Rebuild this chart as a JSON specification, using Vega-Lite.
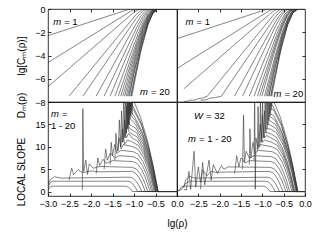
{
"$schema":"https://vega.github.io/schema/vega-lite/v6.json",
"padding":{"left":16,"top":4,"right":4,"bottom":2},
"config":{"view":{"stroke":"black","strokeWidth":0.8},"font":"Liberation Sans",
"axis":{"domain":false,"grid":false,"tickColor":"black","tickSize":-3,"tickWidth":0.8,"tickCount":20,"labelFont":"Liberation Sans","labelFontSize":9,"labelColor":"black","labelPadding":6,"titleFont":"Liberation Sans","titleFontSize":10,"titleFontWeight":"normal","titleColor":"black","labelFlush":false,"labelOverlap":false},
"line":{"stroke":"#333","strokeWidth":0.6,"clip":true},
"text":{"font":"Liberation Sans","fontSize":9.5,"align":"left","baseline":"middle","color":"black"}},
"datasets":{
"tl":[
{"m":1,"x":-3,"y":-2.29},{"m":1,"x":-1.2,"y":-0.128},{"m":1,"x":-1.16,"y":-0.081},{"m":1,"x":-1.12,"y":-0.04},{"m":1,"x":-1.088,"y":-0.016},{"m":1,"x":-1.04,"y":0},{"m":1,"x":0,"y":0},
{"m":2,"x":-3,"y":-4.61},{"m":2,"x":-1.14,"y":-0.337},{"m":2,"x":-1.085,"y":-0.213},{"m":2,"x":-1.03,"y":-0.105},{"m":2,"x":-0.986,"y":-0.041},{"m":2,"x":-0.953,"y":-0.011},{"m":2,"x":-0.92,"y":0},{"m":2,"x":0,"y":0},
{"m":3,"x":-3,"y":-6.68},{"m":3,"x":-1.1,"y":-0.597},{"m":3,"x":-1.03,"y":-0.378},{"m":3,"x":-0.96,"y":-0.187},{"m":3,"x":-0.904,"y":-0.073},{"m":3,"x":-0.862,"y":-0.019},{"m":3,"x":-0.82,"y":0},{"m":3,"x":0,"y":0},
{"m":4,"x":-2.51,"y":-7.5},{"m":4,"x":-1.06,"y":-0.96},{"m":4,"x":-0.98,"y":-0.608},{"m":4,"x":-0.9,"y":-0.3},{"m":4,"x":-0.836,"y":-0.117},{"m":4,"x":-0.788,"y":-0.031},{"m":4,"x":-0.74,"y":0},{"m":4,"x":0,"y":0},
{"m":5,"x":-2.19,"y":-7.5},{"m":5,"x":-1.04,"y":-1.296},{"m":5,"x":-0.95,"y":-0.82},{"m":5,"x":-0.86,"y":-0.405},{"m":5,"x":-0.788,"y":-0.157},{"m":5,"x":-0.734,"y":-0.042},{"m":5,"x":-0.68,"y":0},{"m":5,"x":0,"y":0},
{"m":6,"x":-1.88,"y":-7.5},{"m":6,"x":-1.03,"y":-1.787},{"m":6,"x":-0.93,"y":-1.131},{"m":6,"x":-0.83,"y":-0.558},{"m":6,"x":-0.75,"y":-0.217},{"m":6,"x":-0.69,"y":-0.057},{"m":6,"x":-0.63,"y":0},{"m":6,"x":0,"y":0},
{"m":7,"x":-1.695,"y":-7.5},{"m":7,"x":-1.02,"y":-2.236},{"m":7,"x":-0.9125,"y":-1.415},{"m":7,"x":-0.805,"y":-0.699},{"m":7,"x":-0.719,"y":-0.272},{"m":7,"x":-0.6545,"y":-0.072},{"m":7,"x":-0.59,"y":0},{"m":7,"x":0,"y":0},
{"m":8,"x":-1.556,"y":-7.5},{"m":8,"x":-1.02,"y":-2.729},{"m":8,"x":-0.905,"y":-1.727},{"m":8,"x":-0.79,"y":-0.853},{"m":8,"x":-0.698,"y":-0.332},{"m":8,"x":-0.629,"y":-0.088},{"m":8,"x":-0.56,"y":0},{"m":8,"x":0,"y":0},
{"m":9,"x":-1.443,"y":-7.5},{"m":9,"x":-1.02,"y":-3.267},{"m":9,"x":-0.8975,"y":-2.067},{"m":9,"x":-0.775,"y":-1.021},{"m":9,"x":-0.677,"y":-0.397},{"m":9,"x":-0.6035,"y":-0.105},{"m":9,"x":-0.53,"y":0},{"m":9,"x":0,"y":0},
{"m":10,"x":-1.365,"y":-7.5},{"m":10,"x":-1.03,"y":-3.813},{"m":10,"x":-0.9,"y":-2.413},{"m":10,"x":-0.77,"y":-1.191},{"m":10,"x":-0.666,"y":-0.463},{"m":10,"x":-0.588,"y":-0.122},{"m":10,"x":-0.51,"y":0},{"m":10,"x":0,"y":0},
{"m":11,"x":-1.308,"y":-7.5},{"m":11,"x":-1.05,"y":-4.4},{"m":11,"x":-0.9125,"y":-2.785},{"m":11,"x":-0.775,"y":-1.375},{"m":11,"x":-0.665,"y":-0.535},{"m":11,"x":-0.5825,"y":-0.141},{"m":11,"x":-0.5,"y":0},{"m":11,"x":0,"y":0},
{"m":12,"x":-1.26,"y":-7.5},{"m":12,"x":-1.07,"y":-5.027},{"m":12,"x":-0.925,"y":-3.181},{"m":12,"x":-0.78,"y":-1.571},{"m":12,"x":-0.664,"y":-0.611},{"m":12,"x":-0.577,"y":-0.161},{"m":12,"x":-0.49,"y":0},{"m":12,"x":0,"y":0},
{"m":13,"x":-1.219,"y":-7.5},{"m":13,"x":-1.09,"y":-5.693},{"m":13,"x":-0.9375,"y":-3.603},{"m":13,"x":-0.785,"y":-1.779},{"m":13,"x":-0.663,"y":-0.692},{"m":13,"x":-0.5715,"y":-0.183},{"m":13,"x":-0.48,"y":0},{"m":13,"x":0,"y":0},
{"m":14,"x":-1.183,"y":-7.5},{"m":14,"x":-1.11,"y":-6.4},{"m":14,"x":-0.95,"y":-4.05},{"m":14,"x":-0.79,"y":-2.0},{"m":14,"x":-0.662,"y":-0.778},{"m":14,"x":-0.566,"y":-0.205},{"m":14,"x":-0.47,"y":0},{"m":14,"x":0,"y":0},
{"m":15,"x":-1.152,"y":-7.5},{"m":15,"x":-1.13,"y":-7.147},{"m":15,"x":-0.9625,"y":-4.523},{"m":15,"x":-0.795,"y":-2.233},{"m":15,"x":-0.661,"y":-0.868},{"m":15,"x":-0.5605,"y":-0.229},{"m":15,"x":-0.46,"y":0},{"m":15,"x":0,"y":0},
{"m":16,"x":-1.124,"y":-7.5},{"m":16,"x":-0.975,"y":-5.021},{"m":16,"x":-0.8,"y":-2.479},{"m":16,"x":-0.66,"y":-0.964},{"m":16,"x":-0.555,"y":-0.255},{"m":16,"x":-0.45,"y":0},{"m":16,"x":0,"y":0},
{"m":17,"x":-1.11,"y":-7.5},{"m":17,"x":-0.9975,"y":-5.544},{"m":17,"x":-0.815,"y":-2.737},{"m":17,"x":-0.669,"y":-1.064},{"m":17,"x":-0.5595,"y":-0.281},{"m":17,"x":-0.45,"y":0},{"m":17,"x":0,"y":0},
{"m":18,"x":-1.077,"y":-7.5},{"m":18,"x":-1.01,"y":-6.253},{"m":18,"x":-0.82,"y":-3.087},{"m":18,"x":-0.668,"y":-1.2},{"m":18,"x":-0.554,"y":-0.317},{"m":18,"x":-0.44,"y":0},{"m":18,"x":0,"y":0},
{"m":19,"x":-1.067,"y":-7.5},{"m":19,"x":-1.0325,"y":-6.835},{"m":19,"x":-0.835,"y":-3.374},{"m":19,"x":-0.677,"y":-1.312},{"m":19,"x":-0.5585,"y":-0.347},{"m":19,"x":-0.44,"y":0},{"m":19,"x":0,"y":0},
{"m":20,"x":-1.048,"y":-7.5},{"m":20,"x":-0.9665,"y":-5.898},{"m":20,"x":-0.845,"y":-3.712},{"m":20,"x":-0.683,"y":-1.443},{"m":20,"x":-0.5615,"y":-0.381},{"m":20,"x":-0.44,"y":0},{"m":20,"x":0,"y":0}
],
"tr":[
{"m":1,"x":-3,"y":-2.55},{"m":1,"x":-0.98,"y":-0.128},{"m":1,"x":-0.94,"y":-0.081},{"m":1,"x":-0.9,"y":-0.04},{"m":1,"x":-0.868,"y":-0.016},{"m":1,"x":-0.82,"y":0},{"m":1,"x":0,"y":0},
{"m":2,"x":-3,"y":-5.12},{"m":2,"x":-0.92,"y":-0.337},{"m":2,"x":-0.865,"y":-0.213},{"m":2,"x":-0.81,"y":-0.105},{"m":2,"x":-0.766,"y":-0.041},{"m":2,"x":-0.733,"y":-0.011},{"m":2,"x":-0.7,"y":0},{"m":2,"x":0,"y":0},
{"m":3,"x":-2.84,"y":-6.87},{"m":3,"x":-0.88,"y":-0.597},{"m":3,"x":-0.81,"y":-0.378},{"m":3,"x":-0.74,"y":-0.187},{"m":3,"x":-0.684,"y":-0.073},{"m":3,"x":-0.642,"y":-0.019},{"m":3,"x":-0.6,"y":0},{"m":3,"x":0,"y":0},
{"m":4,"x":-2.84,"y":-7.95},{"m":4,"x":-2.74,"y":-7.93},{"m":4,"x":-2.7,"y":-7.84},{"m":4,"x":-2.56,"y":-7.82},{"m":4,"x":-2.5,"y":-7.7},{"m":4,"x":-2.42,"y":-7.68},{"m":4,"x":-2.29,"y":-7.5},{"m":4,"x":-0.84,"y":-0.96},{"m":4,"x":-0.76,"y":-0.608},{"m":4,"x":-0.68,"y":-0.3},{"m":4,"x":-0.616,"y":-0.117},{"m":4,"x":-0.568,"y":-0.031},{"m":4,"x":-0.52,"y":0},{"m":4,"x":0,"y":0},
{"m":5,"x":-2.45,"y":-7.85},{"m":5,"x":-2.3,"y":-7.8},{"m":5,"x":-2.22,"y":-7.66},{"m":5,"x":-2.1,"y":-7.62},{"m":5,"x":-1.96,"y":-7.5},{"m":5,"x":-0.81,"y":-1.296},{"m":5,"x":-0.72,"y":-0.82},{"m":5,"x":-0.63,"y":-0.405},{"m":5,"x":-0.558,"y":-0.157},{"m":5,"x":-0.504,"y":-0.042},{"m":5,"x":-0.45,"y":0},{"m":5,"x":0,"y":0},
{"m":6,"x":-1.65,"y":-7.5},{"m":6,"x":-0.8,"y":-1.787},{"m":6,"x":-0.7,"y":-1.131},{"m":6,"x":-0.6,"y":-0.558},{"m":6,"x":-0.52,"y":-0.217},{"m":6,"x":-0.46,"y":-0.057},{"m":6,"x":-0.4,"y":0},{"m":6,"x":0,"y":0},
{"m":7,"x":-1.465,"y":-7.5},{"m":7,"x":-0.79,"y":-2.236},{"m":7,"x":-0.6825,"y":-1.415},{"m":7,"x":-0.575,"y":-0.699},{"m":7,"x":-0.489,"y":-0.272},{"m":7,"x":-0.4245,"y":-0.072},{"m":7,"x":-0.36,"y":0},{"m":7,"x":0,"y":0},
{"m":8,"x":-1.306,"y":-7.5},{"m":8,"x":-0.77,"y":-2.729},{"m":8,"x":-0.655,"y":-1.727},{"m":8,"x":-0.54,"y":-0.853},{"m":8,"x":-0.448,"y":-0.332},{"m":8,"x":-0.379,"y":-0.088},{"m":8,"x":-0.31,"y":0},{"m":8,"x":0,"y":0},
{"m":9,"x":-1.193,"y":-7.5},{"m":9,"x":-0.77,"y":-3.267},{"m":9,"x":-0.6475,"y":-2.067},{"m":9,"x":-0.525,"y":-1.021},{"m":9,"x":-0.427,"y":-0.397},{"m":9,"x":-0.3535,"y":-0.105},{"m":9,"x":-0.28,"y":0},{"m":9,"x":0,"y":0},
{"m":10,"x":-1.115,"y":-7.5},{"m":10,"x":-0.78,"y":-3.813},{"m":10,"x":-0.65,"y":-2.413},{"m":10,"x":-0.52,"y":-1.191},{"m":10,"x":-0.416,"y":-0.463},{"m":10,"x":-0.338,"y":-0.122},{"m":10,"x":-0.26,"y":0},{"m":10,"x":0,"y":0},
{"m":11,"x":-1.058,"y":-7.5},{"m":11,"x":-0.8,"y":-4.4},{"m":11,"x":-0.6625,"y":-2.785},{"m":11,"x":-0.525,"y":-1.375},{"m":11,"x":-0.415,"y":-0.535},{"m":11,"x":-0.3325,"y":-0.141},{"m":11,"x":-0.25,"y":0},{"m":11,"x":0,"y":0},
{"m":12,"x":-1.01,"y":-7.5},{"m":12,"x":-0.82,"y":-5.027},{"m":12,"x":-0.675,"y":-3.181},{"m":12,"x":-0.53,"y":-1.571},{"m":12,"x":-0.414,"y":-0.611},{"m":12,"x":-0.327,"y":-0.161},{"m":12,"x":-0.24,"y":0},{"m":12,"x":0,"y":0},
{"m":13,"x":-0.949,"y":-7.5},{"m":13,"x":-0.82,"y":-5.693},{"m":13,"x":-0.6675,"y":-3.603},{"m":13,"x":-0.515,"y":-1.779},{"m":13,"x":-0.393,"y":-0.692},{"m":13,"x":-0.3015,"y":-0.183},{"m":13,"x":-0.21,"y":0},{"m":13,"x":0,"y":0},
{"m":14,"x":-0.913,"y":-7.5},{"m":14,"x":-0.84,"y":-6.4},{"m":14,"x":-0.68,"y":-4.05},{"m":14,"x":-0.52,"y":-2.0},{"m":14,"x":-0.392,"y":-0.778},{"m":14,"x":-0.296,"y":-0.205},{"m":14,"x":-0.2,"y":0},{"m":14,"x":0,"y":0},
{"m":15,"x":-0.882,"y":-7.5},{"m":15,"x":-0.86,"y":-7.147},{"m":15,"x":-0.6925,"y":-4.523},{"m":15,"x":-0.525,"y":-2.233},{"m":15,"x":-0.391,"y":-0.868},{"m":15,"x":-0.2905,"y":-0.229},{"m":15,"x":-0.19,"y":0},{"m":15,"x":0,"y":0},
{"m":16,"x":-0.854,"y":-7.5},{"m":16,"x":-0.705,"y":-5.021},{"m":16,"x":-0.53,"y":-2.479},{"m":16,"x":-0.39,"y":-0.964},{"m":16,"x":-0.285,"y":-0.255},{"m":16,"x":-0.18,"y":0},{"m":16,"x":0,"y":0},
{"m":17,"x":-0.84,"y":-7.5},{"m":17,"x":-0.7275,"y":-5.544},{"m":17,"x":-0.545,"y":-2.737},{"m":17,"x":-0.399,"y":-1.064},{"m":17,"x":-0.2895,"y":-0.281},{"m":17,"x":-0.18,"y":0},{"m":17,"x":0,"y":0},
{"m":18,"x":-0.807,"y":-7.5},{"m":18,"x":-0.74,"y":-6.253},{"m":18,"x":-0.55,"y":-3.087},{"m":18,"x":-0.398,"y":-1.2},{"m":18,"x":-0.284,"y":-0.317},{"m":18,"x":-0.17,"y":0},{"m":18,"x":0,"y":0},
{"m":19,"x":-0.797,"y":-7.5},{"m":19,"x":-0.7625,"y":-6.835},{"m":19,"x":-0.565,"y":-3.374},{"m":19,"x":-0.407,"y":-1.312},{"m":19,"x":-0.2885,"y":-0.347},{"m":19,"x":-0.17,"y":0},{"m":19,"x":0,"y":0},
{"m":20,"x":-0.778,"y":-7.5},{"m":20,"x":-0.6965,"y":-5.898},{"m":20,"x":-0.575,"y":-3.712},{"m":20,"x":-0.413,"y":-1.443},{"m":20,"x":-0.2915,"y":-0.381},{"m":20,"x":-0.17,"y":0},{"m":20,"x":0,"y":0}
],
"bl":[
{"m":1,"x":-3,"y":0.3},{"m":1,"x":-2.95,"y":1.0},{"m":1,"x":-2.9,"y":1.2},{"m":1,"x":-1.2,"y":1.2},{"m":1,"x":-1.16,"y":1.125},{"m":1,"x":-1.12,"y":0.9},{"m":1,"x":-1.088,"y":0.612},{"m":1,"x":-1.064,"y":0.333},{"m":1,"x":-1.04,"y":0},{"m":1,"x":0,"y":0},
{"m":2,"x":-3,"y":0.8},{"m":2,"x":-2.95,"y":2.0},{"m":2,"x":-2.9,"y":2.3},{"m":2,"x":-1.14,"y":2.3},{"m":2,"x":-1.085,"y":2.16},{"m":2,"x":-1.03,"y":1.725},{"m":2,"x":-0.986,"y":1.173},{"m":2,"x":-0.953,"y":0.638},{"m":2,"x":-0.92,"y":0},{"m":2,"x":0,"y":0},
{"m":3,"x":-3,"y":1.5},{"m":3,"x":-2.95,"y":2.6},{"m":3,"x":-2.85,"y":3.3},{"m":3,"x":-2.7,"y":3.0},{"m":3,"x":-1.1,"y":3.2},{"m":3,"x":-1.03,"y":3.0},{"m":3,"x":-0.96,"y":2.4},{"m":3,"x":-0.904,"y":1.632},{"m":3,"x":-0.862,"y":0.888},{"m":3,"x":-0.82,"y":0},{"m":3,"x":0,"y":0},
{"m":4,"x":-2.51,"y":2.5},{"m":4,"x":-2.45,"y":5.2},{"m":4,"x":-2.4,"y":3.8},{"m":4,"x":-2.3,"y":4.9},{"m":4,"x":-2.2,"y":4.2},{"m":4,"x":-2.0,"y":4.6},{"m":4,"x":-1.8,"y":4.4},{"m":4,"x":-1.06,"y":4.5},{"m":4,"x":-0.98,"y":4.22},{"m":4,"x":-0.9,"y":3.375},{"m":4,"x":-0.836,"y":2.295},{"m":4,"x":-0.788,"y":1.249},{"m":4,"x":-0.74,"y":0},{"m":4,"x":0,"y":0},
{"m":5,"x":-2.2,"y":0.3},{"m":5,"x":-2.19,"y":18.5},{"m":5,"x":-2.17,"y":4.5},{"m":5,"x":-2.12,"y":7.0},{"m":5,"x":-2.08,"y":3.8},{"m":5,"x":-2.04,"y":6.2},{"m":5,"x":-1.95,"y":5.2},{"m":5,"x":-1.8,"y":5.6},{"m":5,"x":-1.04,"y":5.4},{"m":5,"x":-0.95,"y":5.06},{"m":5,"x":-0.86,"y":4.05},{"m":5,"x":-0.788,"y":2.754},{"m":5,"x":-0.734,"y":1.499},{"m":5,"x":-0.68,"y":0},{"m":5,"x":0,"y":0},
{"m":6,"x":-1.88,"y":4.0},{"m":6,"x":-1.84,"y":7.5},{"m":6,"x":-1.8,"y":5.8},{"m":6,"x":-1.72,"y":7.2},{"m":6,"x":-1.65,"y":6.3},{"m":6,"x":-1.5,"y":6.9},{"m":6,"x":-1.03,"y":6.7},{"m":6,"x":-0.93,"y":6.28},{"m":6,"x":-0.83,"y":5.025},{"m":6,"x":-0.75,"y":3.417},{"m":6,"x":-0.69,"y":1.859},{"m":6,"x":-0.63,"y":0},{"m":6,"x":0,"y":0},
{"m":7,"x":-1.695,"y":5},{"m":7,"x":-1.66,"y":9.5},{"m":7,"x":-1.62,"y":7},{"m":7,"x":-1.55,"y":8.6},{"m":7,"x":-1.45,"y":7.5},{"m":7,"x":-1.35,"y":8.0},{"m":7,"x":-1.02,"y":7.8},{"m":7,"x":-0.9125,"y":7.31},{"m":7,"x":-0.805,"y":5.85},{"m":7,"x":-0.719,"y":3.978},{"m":7,"x":-0.6545,"y":2.165},{"m":7,"x":-0.59,"y":0},{"m":7,"x":0,"y":0},
{"m":8,"x":-1.556,"y":6},{"m":8,"x":-1.53,"y":11},{"m":8,"x":-1.5,"y":8},{"m":8,"x":-1.45,"y":10.5},{"m":8,"x":-1.4,"y":8.5},{"m":8,"x":-1.3,"y":9.2},{"m":8,"x":-1.02,"y":8.9},{"m":8,"x":-0.905,"y":8.34},{"m":8,"x":-0.79,"y":6.675},{"m":8,"x":-0.698,"y":4.539},{"m":8,"x":-0.629,"y":2.47},{"m":8,"x":-0.56,"y":0},{"m":8,"x":0,"y":0},
{"m":9,"x":-1.443,"y":7},{"m":9,"x":-1.42,"y":13},{"m":9,"x":-1.39,"y":9},{"m":9,"x":-1.35,"y":12},{"m":9,"x":-1.3,"y":9.5},{"m":9,"x":-1.25,"y":10.5},{"m":9,"x":-1.02,"y":10},{"m":9,"x":-0.8975,"y":9.375},{"m":9,"x":-0.775,"y":7.5},{"m":9,"x":-0.677,"y":5.1},{"m":9,"x":-0.6035,"y":2.775},{"m":9,"x":-0.53,"y":0},{"m":9,"x":0,"y":0},
{"m":10,"x":-1.365,"y":9},{"m":10,"x":-1.34,"y":16},{"m":10,"x":-1.31,"y":10},{"m":10,"x":-1.27,"y":14},{"m":10,"x":-1.22,"y":10.5},{"m":10,"x":-1.15,"y":11.5},{"m":10,"x":-1.03,"y":11},{"m":10,"x":-0.9,"y":10.31},{"m":10,"x":-0.77,"y":8.25},{"m":10,"x":-0.666,"y":5.61},{"m":10,"x":-0.588,"y":3.05},{"m":10,"x":-0.51,"y":0},{"m":10,"x":0,"y":0},
{"m":11,"x":-1.308,"y":10},{"m":11,"x":-1.29,"y":18},{"m":11,"x":-1.26,"y":11},{"m":11,"x":-1.22,"y":16},{"m":11,"x":-1.18,"y":12},{"m":11,"x":-1.12,"y":13},{"m":11,"x":-1.05,"y":12},{"m":11,"x":-0.9125,"y":11.25},{"m":11,"x":-0.775,"y":9.0},{"m":11,"x":-0.665,"y":6.12},{"m":11,"x":-0.5825,"y":3.33},{"m":11,"x":-0.5,"y":0},{"m":11,"x":0,"y":0},
{"m":12,"x":-1.26,"y":11},{"m":12,"x":-1.24,"y":21},{"m":12,"x":-1.21,"y":12},{"m":12,"x":-1.17,"y":19},{"m":12,"x":-1.13,"y":13.5},{"m":12,"x":-1.07,"y":13},{"m":12,"x":-0.925,"y":12.19},{"m":12,"x":-0.78,"y":9.75},{"m":12,"x":-0.664,"y":6.63},{"m":12,"x":-0.577,"y":3.61},{"m":12,"x":-0.49,"y":0},{"m":12,"x":0,"y":0},
{"m":13,"x":-1.219,"y":12},{"m":13,"x":-1.2,"y":22},{"m":13,"x":-1.18,"y":13},{"m":13,"x":-1.15,"y":20},{"m":13,"x":-1.12,"y":14.5},{"m":13,"x":-1.09,"y":14},{"m":13,"x":-0.9375,"y":13.125},{"m":13,"x":-0.785,"y":10.5},{"m":13,"x":-0.663,"y":7.14},{"m":13,"x":-0.5715,"y":3.885},{"m":13,"x":-0.48,"y":0},{"m":13,"x":0,"y":0},
{"m":14,"x":-1.183,"y":13},{"m":14,"x":-1.165,"y":23},{"m":14,"x":-1.145,"y":14},{"m":14,"x":-1.12,"y":21},{"m":14,"x":-1.11,"y":15},{"m":14,"x":-0.95,"y":14.06},{"m":14,"x":-0.79,"y":11.25},{"m":14,"x":-0.662,"y":7.65},{"m":14,"x":-0.566,"y":4.16},{"m":14,"x":-0.47,"y":0},{"m":14,"x":0,"y":0},
{"m":15,"x":-1.152,"y":14},{"m":15,"x":-1.14,"y":24},{"m":15,"x":-1.12,"y":15},{"m":15,"x":-1.1,"y":22},{"m":15,"x":-1.08,"y":16.2},{"m":15,"x":-0.9625,"y":15.0},{"m":15,"x":-0.795,"y":12.0},{"m":15,"x":-0.661,"y":8.16},{"m":15,"x":-0.5605,"y":4.44},{"m":15,"x":-0.46,"y":0},{"m":15,"x":0,"y":0},
{"m":16,"x":-1.124,"y":15},{"m":16,"x":-1.11,"y":24},{"m":16,"x":-1.09,"y":17},{"m":16,"x":-1.07,"y":23},{"m":16,"x":-1.05,"y":16.65},{"m":16,"x":-0.975,"y":15.94},{"m":16,"x":-0.8,"y":12.75},{"m":16,"x":-0.66,"y":8.67},{"m":16,"x":-0.555,"y":4.72},{"m":16,"x":-0.45,"y":0},{"m":16,"x":0,"y":0},
{"m":17,"x":-1.11,"y":16},{"m":17,"x":-1.095,"y":25},{"m":17,"x":-1.075,"y":17.5},{"m":17,"x":-1.055,"y":24},{"m":17,"x":-1.035,"y":17.29},{"m":17,"x":-0.9975,"y":16.875},{"m":17,"x":-0.815,"y":13.5},{"m":17,"x":-0.669,"y":9.18},{"m":17,"x":-0.5595,"y":5.0},{"m":17,"x":-0.45,"y":0},{"m":17,"x":0,"y":0},
{"m":18,"x":-1.077,"y":17},{"m":18,"x":-1.065,"y":26},{"m":18,"x":-1.045,"y":18.5},{"m":18,"x":-1.01,"y":18.28},{"m":18,"x":-0.82,"y":14.625},{"m":18,"x":-0.668,"y":9.945},{"m":18,"x":-0.554,"y":5.41},{"m":18,"x":-0.44,"y":0},{"m":18,"x":0,"y":0},
{"m":19,"x":-1.067,"y":18},{"m":19,"x":-1.055,"y":27},{"m":19,"x":-1.04,"y":19.5},{"m":19,"x":-1.0325,"y":19.22},{"m":19,"x":-0.835,"y":15.375},{"m":19,"x":-0.677,"y":10.455},{"m":19,"x":-0.5585,"y":5.689},{"m":19,"x":-0.44,"y":0},{"m":19,"x":0,"y":0},
{"m":20,"x":-1.048,"y":19},{"m":20,"x":-1.04,"y":28},{"m":20,"x":-1.02,"y":20.6},{"m":20,"x":-0.9665,"y":19.3},{"m":20,"x":-0.845,"y":16.5},{"m":20,"x":-0.683,"y":11.22},{"m":20,"x":-0.5615,"y":6.105},{"m":20,"x":-0.44,"y":0},{"m":20,"x":0,"y":0}
],
"br":[
{"m":1,"x":-3,"y":0.1},{"m":1,"x":-2.95,"y":0.2},{"m":1,"x":-2.9,"y":1.0},{"m":1,"x":-2.85,"y":1.2},{"m":1,"x":-0.98,"y":1.2},{"m":1,"x":-0.94,"y":1.125},{"m":1,"x":-0.9,"y":0.9},{"m":1,"x":-0.868,"y":0.612},{"m":1,"x":-0.844,"y":0.333},{"m":1,"x":-0.82,"y":0},{"m":1,"x":0,"y":0},
{"m":2,"x":-3,"y":0.2},{"m":2,"x":-2.9,"y":0.4},{"m":2,"x":-2.8,"y":1.8},{"m":2,"x":-2.7,"y":2.3},{"m":2,"x":-0.92,"y":2.3},{"m":2,"x":-0.865,"y":2.16},{"m":2,"x":-0.81,"y":1.725},{"m":2,"x":-0.766,"y":1.173},{"m":2,"x":-0.733,"y":0.638},{"m":2,"x":-0.7,"y":0},{"m":2,"x":0,"y":0},
{"m":3,"x":-2.84,"y":0.8},{"m":3,"x":-2.8,"y":2.6},{"m":3,"x":-2.7,"y":3.4},{"m":3,"x":-2.6,"y":3.0},{"m":3,"x":-0.88,"y":3.2},{"m":3,"x":-0.81,"y":3.0},{"m":3,"x":-0.74,"y":2.4},{"m":3,"x":-0.684,"y":1.632},{"m":3,"x":-0.642,"y":0.888},{"m":3,"x":-0.6,"y":0},{"m":3,"x":0,"y":0},
{"m":4,"x":-2.84,"y":0.5},{"m":4,"x":-2.78,"y":0.3},{"m":4,"x":-2.72,"y":4.5},{"m":4,"x":-2.68,"y":0.5},{"m":4,"x":-2.6,"y":9.0},{"m":4,"x":-2.56,"y":1.0},{"m":4,"x":-2.5,"y":5.5},{"m":4,"x":-2.45,"y":2.0},{"m":4,"x":-2.4,"y":4.8},{"m":4,"x":-2.3,"y":3.5},{"m":4,"x":-2.2,"y":4.5},{"m":4,"x":-2.1,"y":4.3},{"m":4,"x":-0.84,"y":4.5},{"m":4,"x":-0.76,"y":4.22},{"m":4,"x":-0.68,"y":3.375},{"m":4,"x":-0.616,"y":2.295},{"m":4,"x":-0.568,"y":1.249},{"m":4,"x":-0.52,"y":0},{"m":4,"x":0,"y":0},
{"m":5,"x":-2.45,"y":0.5},{"m":5,"x":-2.4,"y":6.5},{"m":5,"x":-2.35,"y":1.5},{"m":5,"x":-2.25,"y":7.0},{"m":5,"x":-2.2,"y":2.5},{"m":5,"x":-2.15,"y":6.0},{"m":5,"x":-2.05,"y":4.0},{"m":5,"x":-1.96,"y":5.8},{"m":5,"x":-1.9,"y":5.0},{"m":5,"x":-1.8,"y":5.5},{"m":5,"x":-0.81,"y":5.4},{"m":5,"x":-0.72,"y":5.06},{"m":5,"x":-0.63,"y":4.05},{"m":5,"x":-0.558,"y":2.754},{"m":5,"x":-0.504,"y":1.499},{"m":5,"x":-0.45,"y":0},{"m":5,"x":0,"y":0},
{"m":6,"x":-1.65,"y":4},{"m":6,"x":-1.6,"y":8.0},{"m":6,"x":-1.55,"y":5.5},{"m":6,"x":-1.5,"y":7.5},{"m":6,"x":-1.4,"y":6.4},{"m":6,"x":-1.3,"y":6.9},{"m":6,"x":-0.8,"y":6.7},{"m":6,"x":-0.7,"y":6.28},{"m":6,"x":-0.6,"y":5.025},{"m":6,"x":-0.52,"y":3.417},{"m":6,"x":-0.46,"y":1.859},{"m":6,"x":-0.4,"y":0},{"m":6,"x":0,"y":0},
{"m":7,"x":-1.465,"y":5},{"m":7,"x":-1.44,"y":17},{"m":7,"x":-1.42,"y":6.5},{"m":7,"x":-1.38,"y":9},{"m":7,"x":-1.3,"y":7.4},{"m":7,"x":-1.2,"y":8.0},{"m":7,"x":-0.79,"y":7.8},{"m":7,"x":-0.6825,"y":7.31},{"m":7,"x":-0.575,"y":5.85},{"m":7,"x":-0.489,"y":3.978},{"m":7,"x":-0.4245,"y":2.165},{"m":7,"x":-0.36,"y":0},{"m":7,"x":0,"y":0},
{"m":8,"x":-1.306,"y":6},{"m":8,"x":-1.29,"y":14},{"m":8,"x":-1.27,"y":7.5},{"m":8,"x":-1.22,"y":11},{"m":8,"x":-1.17,"y":8.5},{"m":8,"x":-1.1,"y":9.2},{"m":8,"x":-0.77,"y":8.9},{"m":8,"x":-0.655,"y":8.34},{"m":8,"x":-0.54,"y":6.675},{"m":8,"x":-0.448,"y":4.539},{"m":8,"x":-0.379,"y":2.47},{"m":8,"x":-0.31,"y":0},{"m":8,"x":0,"y":0},
{"m":9,"x":-1.193,"y":7},{"m":9,"x":-1.18,"y":22},{"m":9,"x":-1.165,"y":0.5},{"m":9,"x":-1.15,"y":12},{"m":9,"x":-1.1,"y":9.5},{"m":9,"x":-1.05,"y":10.5},{"m":9,"x":-0.77,"y":10},{"m":9,"x":-0.6475,"y":9.375},{"m":9,"x":-0.525,"y":7.5},{"m":9,"x":-0.427,"y":5.1},{"m":9,"x":-0.3535,"y":2.775},{"m":9,"x":-0.28,"y":0},{"m":9,"x":0,"y":0},
{"m":10,"x":-1.115,"y":9},{"m":10,"x":-1.1,"y":19},{"m":10,"x":-1.085,"y":10},{"m":10,"x":-1.05,"y":15},{"m":10,"x":-1.0,"y":11},{"m":10,"x":-0.95,"y":11.5},{"m":10,"x":-0.78,"y":11},{"m":10,"x":-0.65,"y":10.31},{"m":10,"x":-0.52,"y":8.25},{"m":10,"x":-0.416,"y":5.61},{"m":10,"x":-0.338,"y":3.05},{"m":10,"x":-0.26,"y":0},{"m":10,"x":0,"y":0},
{"m":11,"x":-1.058,"y":10},{"m":11,"x":-1.045,"y":21},{"m":11,"x":-1.03,"y":11},{"m":11,"x":-1.0,"y":17},{"m":11,"x":-0.96,"y":12},{"m":11,"x":-0.9,"y":12.5},{"m":11,"x":-0.8,"y":12},{"m":11,"x":-0.6625,"y":11.25},{"m":11,"x":-0.525,"y":9.0},{"m":11,"x":-0.415,"y":6.12},{"m":11,"x":-0.3325,"y":3.33},{"m":11,"x":-0.25,"y":0},{"m":11,"x":0,"y":0},
{"m":12,"x":-1.01,"y":11},{"m":12,"x":-0.995,"y":22},{"m":12,"x":-0.98,"y":12},{"m":12,"x":-0.95,"y":18},{"m":12,"x":-0.92,"y":13.2},{"m":12,"x":-0.82,"y":13},{"m":12,"x":-0.675,"y":12.19},{"m":12,"x":-0.53,"y":9.75},{"m":12,"x":-0.414,"y":6.63},{"m":12,"x":-0.327,"y":3.61},{"m":12,"x":-0.24,"y":0},{"m":12,"x":0,"y":0},
{"m":13,"x":-0.949,"y":12},{"m":13,"x":-0.935,"y":23},{"m":13,"x":-0.915,"y":14},{"m":13,"x":-0.82,"y":14},{"m":13,"x":-0.6675,"y":13.125},{"m":13,"x":-0.515,"y":10.5},{"m":13,"x":-0.393,"y":7.14},{"m":13,"x":-0.3015,"y":3.885},{"m":13,"x":-0.21,"y":0},{"m":13,"x":0,"y":0},
{"m":14,"x":-0.913,"y":13},{"m":14,"x":-0.9,"y":24},{"m":14,"x":-0.885,"y":15},{"m":14,"x":-0.84,"y":15},{"m":14,"x":-0.68,"y":14.06},{"m":14,"x":-0.52,"y":11.25},{"m":14,"x":-0.392,"y":7.65},{"m":14,"x":-0.296,"y":4.16},{"m":14,"x":-0.2,"y":0},{"m":14,"x":0,"y":0},
{"m":15,"x":-0.882,"y":14},{"m":15,"x":-0.87,"y":25},{"m":15,"x":-0.86,"y":16},{"m":15,"x":-0.6925,"y":15.0},{"m":15,"x":-0.525,"y":12.0},{"m":15,"x":-0.391,"y":8.16},{"m":15,"x":-0.2905,"y":4.44},{"m":15,"x":-0.19,"y":0},{"m":15,"x":0,"y":0},
{"m":16,"x":-0.854,"y":15},{"m":16,"x":-0.845,"y":25},{"m":16,"x":-0.83,"y":16.8},{"m":16,"x":-0.705,"y":15.94},{"m":16,"x":-0.53,"y":12.75},{"m":16,"x":-0.39,"y":8.67},{"m":16,"x":-0.285,"y":4.72},{"m":16,"x":-0.18,"y":0},{"m":16,"x":0,"y":0},
{"m":17,"x":-0.84,"y":16},{"m":17,"x":-0.83,"y":26},{"m":17,"x":-0.815,"y":17.4},{"m":17,"x":-0.7275,"y":16.875},{"m":17,"x":-0.545,"y":13.5},{"m":17,"x":-0.399,"y":9.18},{"m":17,"x":-0.2895,"y":5.0},{"m":17,"x":-0.18,"y":0},{"m":17,"x":0,"y":0},
{"m":18,"x":-0.807,"y":17},{"m":18,"x":-0.8,"y":26},{"m":18,"x":-0.79,"y":18.4},{"m":18,"x":-0.74,"y":18.28},{"m":18,"x":-0.55,"y":14.625},{"m":18,"x":-0.398,"y":9.945},{"m":18,"x":-0.284,"y":5.41},{"m":18,"x":-0.17,"y":0},{"m":18,"x":0,"y":0},
{"m":19,"x":-0.797,"y":18},{"m":19,"x":-0.79,"y":27},{"m":19,"x":-0.78,"y":19.3},{"m":19,"x":-0.7625,"y":19.22},{"m":19,"x":-0.565,"y":15.375},{"m":19,"x":-0.407,"y":10.455},{"m":19,"x":-0.2885,"y":5.689},{"m":19,"x":-0.17,"y":0},{"m":19,"x":0,"y":0},
{"m":20,"x":-0.778,"y":19},{"m":20,"x":-0.77,"y":28},{"m":20,"x":-0.76,"y":20.6},{"m":20,"x":-0.6965,"y":19.3},{"m":20,"x":-0.575,"y":16.5},{"m":20,"x":-0.413,"y":11.22},{"m":20,"x":-0.2915,"y":6.105},{"m":20,"x":-0.17,"y":0},{"m":20,"x":0,"y":0}
]
},
"columns":2,
"spacing":0,
"bounds":"flush",
"concat":[
{"width":129,"height":93,"layer":[
{"data":{"name":"tl"},"mark":{"type":"line","clip":true},"encoding":{
"x":{"field":"x","type":"quantitative","scale":{"domain":[-3,0],"nice":false,"zero":false},"axis":{"orient":"top","labels":false,"title":null,"values":[-2.5,-2,-1.5,-1,-0.5],"tickCount":20}},
"y":{"field":"y","type":"quantitative","scale":{"domain":[-8,0],"nice":false,"zero":false},"axis":{"title":"lg[Cₘ(ρ)]","values":[0,-2,-4,-6,-8],"format":"d","tickCount":20,"labelOverlap":false,"titlePadding":8}},
"detail":{"field":"m"}}},
{"data":{"values":[{}]},"mark":{"type":"text","fontStyle":"italic"},"encoding":{"x":{"datum":-2.88},"y":{"datum":-1.1},"text":{"value":"m"}}},
{"data":{"values":[{}]},"mark":{"type":"text","dx":11},"encoding":{"x":{"datum":-2.88},"y":{"datum":-1.1},"text":{"value":"= 1"}}},
{"data":{"values":[{}]},"mark":{"type":"text","fontStyle":"italic"},"encoding":{"x":{"datum":-0.86},"y":{"datum":-7.1},"text":{"value":"m"}}},
{"data":{"values":[{}]},"mark":{"type":"text","dx":11},"encoding":{"x":{"datum":-0.86},"y":{"datum":-7.1},"text":{"value":"= 20"}}}
]},
{"width":128,"height":93,"layer":[
{"data":{"name":"tr"},"mark":{"type":"line","clip":true},"encoding":{
"x":{"field":"x","type":"quantitative","scale":{"domain":[-3,0],"nice":false,"zero":false},"axis":{"orient":"top","labels":false,"title":null,"values":[-2.5,-2,-1.5,-1,-0.5],"tickCount":20}},
"y":{"field":"y","type":"quantitative","scale":{"domain":[-8,0],"nice":false,"zero":false},"axis":{"orient":"right","labels":false,"title":null,"values":[-2,-4,-6],"tickCount":20}},
"detail":{"field":"m"}}},
{"data":{"values":[{}]},"mark":{"type":"text","fontStyle":"italic"},"encoding":{"x":{"datum":-2.8},"y":{"datum":-1.1},"text":{"value":"m"}}},
{"data":{"values":[{}]},"mark":{"type":"text","dx":11},"encoding":{"x":{"datum":-2.8},"y":{"datum":-1.1},"text":{"value":"= 1"}}},
{"data":{"values":[{}]},"mark":{"type":"text","fontStyle":"italic"},"encoding":{"x":{"datum":-0.74},"y":{"datum":-7.3},"text":{"value":"m"}}},
{"data":{"values":[{}]},"mark":{"type":"text","dx":11},"encoding":{"x":{"datum":-0.74},"y":{"datum":-7.3},"text":{"value":"= 20"}}}
]},
{"width":129,"height":94,"layer":[
{"data":{"name":"bl"},"mark":{"type":"line","clip":true},"encoding":{
"x":{"field":"x","type":"quantitative","scale":{"domain":[-3,0],"nice":false,"zero":false},"axis":{"title":"lg(ρ)","format":".1f","values":[-3,-2.5,-2,-1.5,-1,-0.5,0],"tickCount":20,"labelOverlap":false,"titleX":129,"titleY":27,"titleBaseline":"middle"}},
"y":{"field":"y","type":"quantitative","scale":{"domain":[-1,20],"nice":false,"zero":false},"axis":{"title":"LOCAL SLOPE\u00a0\u00a0\u00a0\u00a0\u00a0\u00a0\u00a0Dₘ(ρ)","values":[0,5,10,15],"format":"d","tickCount":20,"labelOverlap":false,"titlePadding":8}},
"detail":{"field":"m"}}},
{"data":{"values":[{}]},"mark":{"type":"text","fontStyle":"italic"},"encoding":{"x":{"datum":-2.93},"y":{"datum":17.3},"text":{"value":"m"}}},
{"data":{"values":[{}]},"mark":{"type":"text","dx":11},"encoding":{"x":{"datum":-2.93},"y":{"datum":17.3},"text":{"value":"="}}},
{"data":{"values":[{}]},"mark":{"type":"text"},"encoding":{"x":{"datum":-2.93},"y":{"datum":14.6},"text":{"value":"1 - 20"}}}
]},
{"width":128,"height":94,"layer":[
{"data":{"name":"br"},"mark":{"type":"line","clip":true},"encoding":{
"x":{"field":"x","type":"quantitative","scale":{"domain":[-3,0],"nice":false,"zero":false},"axis":{"title":null,"values":[-3,-2.5,-2,-1.5,-1,-0.5,0],"tickCount":20,"labelOverlap":false,"labelExpr":"datum.value == -3 ? '' : format(datum.value, '.1f')"}},
"y":{"field":"y","type":"quantitative","scale":{"domain":[-1,20],"nice":false,"zero":false},"axis":{"orient":"right","labels":false,"title":null,"values":[5,10,15],"tickCount":20}},
"detail":{"field":"m"}}},
{"data":{"values":[{}]},"mark":{"type":"text","fontStyle":"italic"},"encoding":{"x":{"datum":-2.6},"y":{"datum":16.8},"text":{"value":"W"}}},
{"data":{"values":[{}]},"mark":{"type":"text","dx":12},"encoding":{"x":{"datum":-2.6},"y":{"datum":16.8},"text":{"value":"= 32"}}},
{"data":{"values":[{}]},"mark":{"type":"text","fontStyle":"italic"},"encoding":{"x":{"datum":-2.74},"y":{"datum":11.7},"text":{"value":"m"}}},
{"data":{"values":[{}]},"mark":{"type":"text","dx":11},"encoding":{"x":{"datum":-2.74},"y":{"datum":11.7},"text":{"value":"= 1 - 20"}}}
]}
]
}
